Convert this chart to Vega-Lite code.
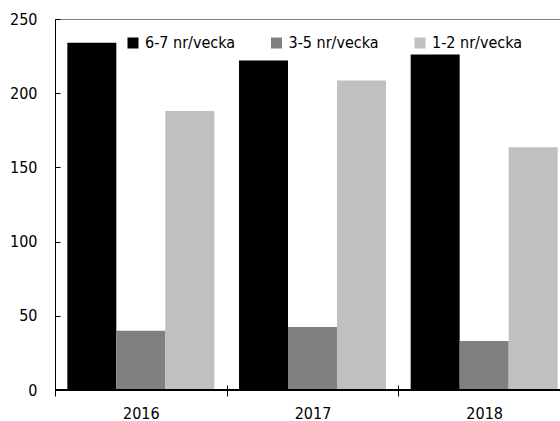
{
  "$schema": "https://vega.github.io/schema/vega-lite/v6.json",
  "width": 515,
  "height": 371,
  "autosize": {"type": "none"},
  "padding": {"left": 55, "top": 19, "right": -10, "bottom": 31},
  "config": {
    "view": {"stroke": "#808080", "strokeWidth": 1},
    "font": "DejaVu Sans Condensed",
    "axis": {"labelFont": "DejaVu Sans Condensed", "labelFontSize": 16, "labelColor": "#000000", "domainColor": "#000000", "tickColor": "#000000", "grid": false},
    "legend": {"labelFont": "DejaVu Sans Condensed"}
  },
  "data": {
    "values": [
      {"year": "2016", "freq": "6-7 nr/vecka", "value": 234},
      {"year": "2016", "freq": "3-5 nr/vecka", "value": 40},
      {"year": "2016", "freq": "1-2 nr/vecka", "value": 188},
      {"year": "2017", "freq": "6-7 nr/vecka", "value": 222},
      {"year": "2017", "freq": "3-5 nr/vecka", "value": 42.5},
      {"year": "2017", "freq": "1-2 nr/vecka", "value": 208.5},
      {"year": "2018", "freq": "6-7 nr/vecka", "value": 226},
      {"year": "2018", "freq": "3-5 nr/vecka", "value": 33},
      {"year": "2018", "freq": "1-2 nr/vecka", "value": 163.5}
    ]
  },
  "layer": [
    {
      "mark": {"type": "bar"},
      "encoding": {
        "x": {
          "field": "year", "type": "nominal",
          "scale": {"paddingInner": 0, "paddingOuter": 0},
          "axis": {"title": null, "labelAngle": 0, "domain": false, "offset": -5, "tickSize": 11, "tickBand": "extent", "labelPadding": 9}
        },
        "xOffset": {
          "field": "freq", "type": "nominal",
          "sort": ["6-7 nr/vecka", "3-5 nr/vecka", "1-2 nr/vecka"],
          "scale": {"paddingOuter": 0.252, "paddingInner": 0}
        },
        "y": {
          "field": "value", "type": "quantitative",
          "scale": {"domain": [0, 250], "nice": false},
          "axis": {"title": null, "values": [0, 50, 100, 150, 200, 250], "tickSize": -5, "labelPadding": 23}
        },
        "color": {
          "field": "freq", "type": "nominal",
          "sort": ["6-7 nr/vecka", "3-5 nr/vecka", "1-2 nr/vecka"],
          "scale": {"range": ["#000000", "#808080", "#c0c0c0"]},
          "legend": {
            "title": null, "orient": "none", "legendX": 70, "legendY": 16,
            "direction": "horizontal", "symbolType": "square", "symbolSize": 121,
            "symbolStrokeWidth": 0, "labelFontSize": 16, "labelColor": "#000000",
            "labelOffset": 4, "columnPadding": 32.5, "labelLimit": 200
          }
        }
      }
    },
    {
      "mark": {"type": "rule", "color": "#000000", "strokeWidth": 1},
      "encoding": {"y": {"datum": 0}}
    }
  ]
}
